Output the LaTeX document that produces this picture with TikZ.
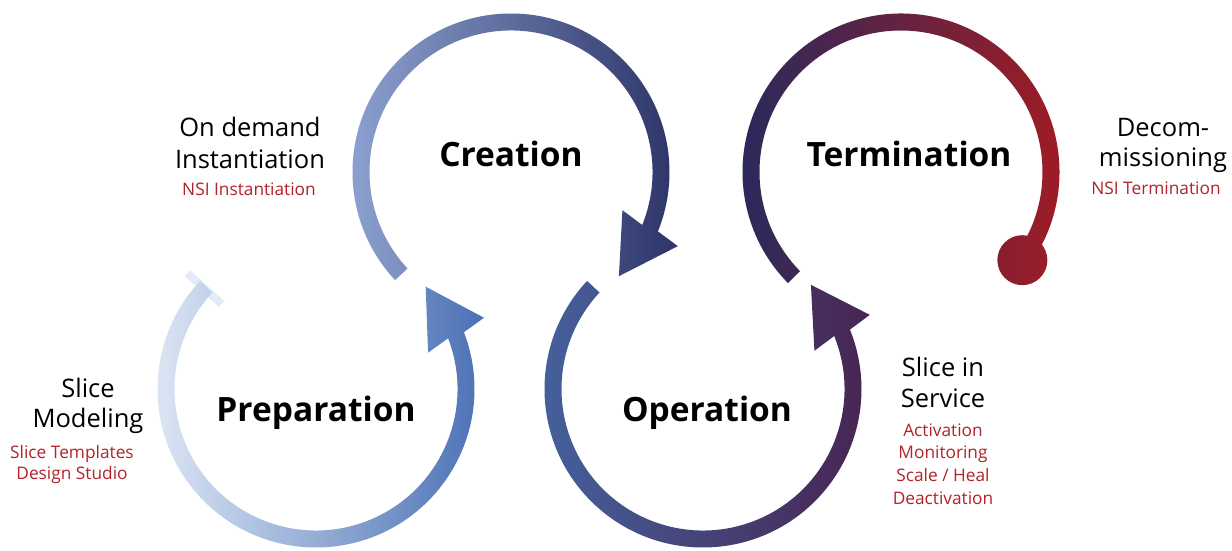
\documentclass[tikz,border=0pt]{standalone}
\usepackage{fontspec}
\setmainfont{Open Sans}
\definecolor{subred}{RGB}{178,34,40}
\definecolor{pL}{HTML}{E2EBF7}
\definecolor{pM}{HTML}{C6D3EC}
\definecolor{pR}{HTML}{4A70B5}
\definecolor{cL}{HTML}{90A6D4}
\definecolor{cM}{HTML}{4E73B5}
\definecolor{cR}{HTML}{2C3366}
\definecolor{oL}{HTML}{44639F}
\definecolor{oM}{HTML}{27295F}
\definecolor{oR}{HTML}{472452}
\definecolor{tL}{HTML}{262A5E}
\definecolor{tM}{HTML}{52254F}
\definecolor{tR}{HTML}{A51B22}
\begin{document}
\begin{tikzpicture}[x=1pt,y=1pt,
  titlefont/.style={font=\fontsize{33.5}{40}\selectfont\bfseries, anchor=base, inner sep=0pt},
  lbl/.style={font=\fontsize{25.5}{30}\selectfont, anchor=base, inner sep=0pt},
  sub/.style={font=\fontsize{17.3}{22}\selectfont, text=subred, anchor=base, inner sep=0pt},
  band/.style={nonzero rule}]
\useasboundingbox (0,0) rectangle (1232,551);
% Preparation (counterclockwise)
\begin{scope}[shift={(316,162)}]
\draw[line width=8pt, pL] (138:127) -- (138:173);
\shade[band, left color=pL, middle color=pM, right color=pR]
  (137:158.5) arc[start angle=137, end angle=381, radius=158.5]
  -- (382.98:182.5) -- (403:150) -- (377.93:117.8)
  -- (381:141.5) arc[start angle=381, end angle=137, radius=141.5] -- cycle;
\end{scope}
% Creation (clockwise)
\begin{scope}[shift={(511,379)}]
\shade[band, left color=cL, middle color=cM, right color=cR]
  (223:158.5) arc[start angle=223, end angle=-22, radius=158.5]
  -- (-23.98:182.5) -- (-44:150) -- (-18.93:117.8)
  -- (-22:141.5) arc[start angle=-22, end angle=223, radius=141.5] -- cycle;
\end{scope}
% Operation (counterclockwise)
\begin{scope}[shift={(703,162)}]
\shade[band, left color=oL, middle color=oM, right color=oR]
  (137:158.5) arc[start angle=137, end angle=382, radius=158.5]
  -- (383.98:182.5) -- (404:150) -- (378.93:117.8)
  -- (382:141.5) arc[start angle=382, end angle=137, radius=141.5] -- cycle;
\end{scope}
% Termination (clockwise, ends in a dot)
\begin{scope}[shift={(901,379)}]
\shade[band, left color=tL, middle color=tM, right color=tR]
  (-36:158.5) arc[start angle=-36, end angle=224.5, radius=158.5]
  -- (224.5:141.5) arc[start angle=224.5, end angle=-36, radius=141.5] -- cycle
  (-36:150) circle[radius=25];
\end{scope}
% titles
\node[titlefont] (creation) at (511,384) {Creation};
\node[titlefont] (termination) at (909,384) {Termination};
\node[titlefont] (preparation) at (316,129) {Preparation};
\node[titlefont] (operation) at (707,129) {Operation};
% labels
\node[lbl] (sm1) at (88,153) {Slice};
\node[lbl] (sm2) at (88,123) {Modeling};
\node[sub] (sm3) at (72,92) {Slice Templates};
\node[sub] (sm4) at (72,71) {Design Studio};
\node[lbl] (od1) at (250,414) {On demand};
\node[lbl] (od2) at (250,382) {Instantiation};
\node[sub] (od3) at (249,355) {NSI Instantiation};
\node[lbl] (ss1) at (943,174) {Slice in};
\node[lbl] (ss2) at (943,143) {Service};
\node[sub] (ss3) at (943,114) {Activation};
\node[sub] (ss4) at (943,92) {Monitoring};
\node[sub] (ss5) at (943,69) {Scale / Heal};
\node[sub] (ss6) at (943,46) {Deactivation};
\node[lbl] (dc1) at (1163,414) {Decom-};
\node[lbl] (dc2) at (1163,384) {missioning};
\node[sub] (dc3) at (1156,356) {NSI Termination};
\end{tikzpicture}
\end{document}
